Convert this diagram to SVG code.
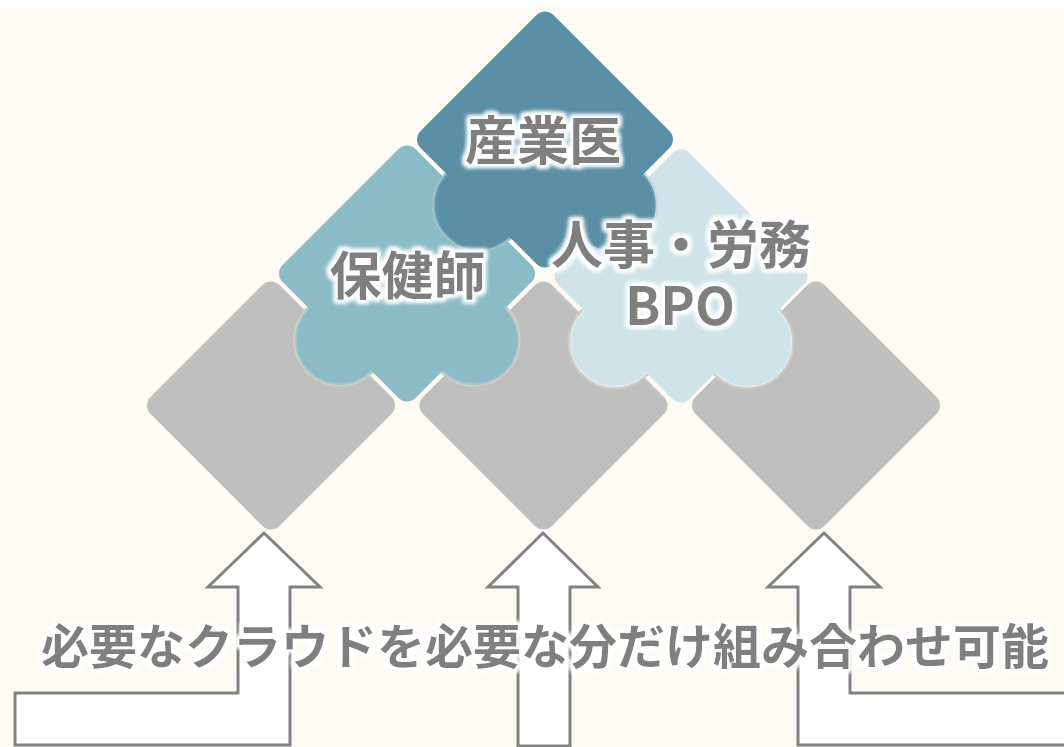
<svg xmlns="http://www.w3.org/2000/svg" width="1064" height="747" viewBox="0 0 1064 747">
<defs>
<style>
.bg{fill:#FEFBF4}
.gray{fill:#BFBFBF}
.p1{fill:#5B8FA5}
.p2{fill:#8BBBC7}
.p3{fill:#D0E3E9}
.ring{fill:none;stroke:#CFCBC2;stroke-width:3}
.lbl{font-family:"Noto Sans CJK JP","Noto Sans CJK SC",sans-serif;font-weight:700;fill:#7F7F7F;text-anchor:middle}
.arrow{fill:#FFFFFF;stroke:#828282;stroke-width:3;stroke-linejoin:miter}
</style>
<filter id="glow" x="-20%" y="-50%" width="140%" height="200%">
<feMorphology in="SourceAlpha" operator="dilate" radius="2.5" result="d"/>
<feGaussianBlur in="d" stdDeviation="2" result="b"/>
<feFlood flood-color="#FFFFFF"/>
<feComposite in2="b" operator="in" result="g"/>
<feMerge><feMergeNode in="g"/><feMergeNode in="g"/><feMergeNode in="SourceGraphic"/></feMerge>
</filter>
</defs>
<rect x="0" y="0" width="1064" height="747" fill="#FFFFFF"/>
<rect class="bg" x="0" y="5" width="1064" height="742"/>

<g id="gray-left"><rect class="gray" x="-91.2" y="-91.2" width="182.4" height="182.4" rx="12" transform="translate(271,405.5) rotate(45)"/></g>
<g id="gray-middle"><rect class="gray" x="-91.2" y="-91.2" width="182.4" height="182.4" rx="12" transform="translate(543.5,405.5) rotate(45)"/></g>
<g id="gray-right"><rect class="gray" x="-91.2" y="-91.2" width="182.4" height="182.4" rx="12" transform="translate(816,405.5) rotate(45)"/></g>

<g id="hokenshi">
<circle class="ring" cx="340" cy="340" r="45.5"/>
<circle class="p2" cx="340" cy="340" r="44" stroke="#9EC6CD" stroke-width="1.5"/>
<circle class="ring" cx="474" cy="340" r="45.5"/>
<circle class="p2" cx="474" cy="340" r="44" stroke="#9EC6CD" stroke-width="1.5"/>
<rect class="p2" x="-94" y="-94" width="188" height="188" rx="12" transform="translate(407,273.5) rotate(45)"/>
</g>

<g id="jinji">
<circle class="ring" cx="614.5" cy="342.5" r="45.5"/>
<circle class="p3" cx="614.5" cy="342.5" r="44" stroke="#DDEBEF" stroke-width="1.5"/>
<circle class="ring" cx="747.5" cy="342.5" r="45.5"/>
<circle class="p3" cx="747.5" cy="342.5" r="44" stroke="#DDEBEF" stroke-width="1.5"/>
<rect class="p3" x="-93" y="-93" width="186" height="186" rx="12" transform="translate(681,276) rotate(45)"/>
</g>

<g id="sangyoui">
<circle fill="none" stroke="#9FC2C8" stroke-width="3" cx="479" cy="205" r="45.5"/>
<circle class="p1" cx="479" cy="205" r="44" stroke="#6E9DB0" stroke-width="1.5"/>
<circle fill="none" stroke="#C3D8DD" stroke-width="3" cx="611" cy="205" r="45.5"/>
<circle class="p1" cx="611" cy="205" r="44" stroke="#6E9DB0" stroke-width="1.5"/>
<rect class="p1" x="-94" y="-94" width="188" height="188" rx="12" transform="translate(545,139.5) rotate(45)"/>
</g>

<g id="labels">
<text id="label-hokenshi" class="lbl" x="407.5" y="295" font-size="52" filter="url(#glow)">保健師</text>
<text id="label-jinji" class="lbl" font-size="52" filter="url(#glow)"><tspan x="681" y="264">人事・労務</tspan><tspan x="680" y="325">BPO</tspan></text>
<text id="label-sangyoui" class="lbl" x="543" y="160" font-size="52" filter="url(#glow)">産業医</text>
</g>

<g id="connectors">
<path class="arrow" d="M15,693 H238 V587 H208 L264,533 L320,587 H290 V745 H15 Z"/>
<path class="arrow" d="M518,746 V587 H488 L543,533 L598,587 H570 V746 Z"/>
<path class="arrow" d="M1073,693 H850 V587 H880 L824,533 L768,587 H798 V745 H1073 Z"/>
</g>

<g id="caption">
<text class="lbl" x="545" y="664" font-size="48" filter="url(#glow)">必要なクラウドを必要な分だけ組み合わせ可能</text>
</g>
</svg>
